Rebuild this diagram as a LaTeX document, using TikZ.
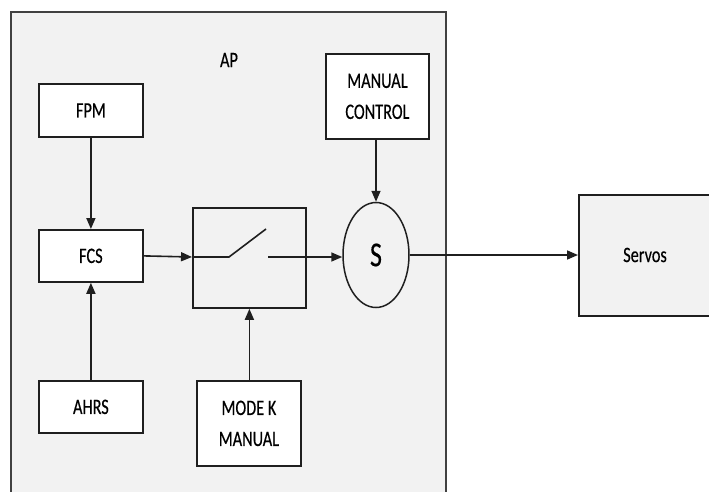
\documentclass[tikz,border=0pt]{standalone}
\usepackage{fontspec}
\setmainfont{Carlito}[FakeStretch=0.74,FakeBold=0.4]
\usetikzlibrary{arrows.meta,shapes.geometric}
\definecolor{panel}{HTML}{F2F2F2}
\definecolor{edge}{HTML}{1F1F1F}
\begin{document}
\begin{tikzpicture}[x=1pt,y=-1pt,
  blk/.style={draw=edge,line width=1.8pt,fill=white,inner sep=0pt,anchor=north west,
    align=center,font=\fontsize{22}{31}\selectfont},
  wire/.style={draw=edge,line width=1.6pt},
  flow/.style={wire,-{Triangle[length=11pt,width=9pt]}}]
  \useasboundingbox (0,0) rectangle (709,492);
  \clip (0,0) rectangle (709,492);
  % AP enclosure (open towards the bottom edge)
  \draw[draw=edge!85,line width=1.6pt,fill=panel] (11,12) rectangle (446,510);
  \node[font=\fontsize{22}{25}\selectfont] (ap) at (229,60) {AP};
  % blocks
  \node[blk,minimum width=104pt,minimum height=53pt] (fpm) at (38,83) {FPM};
  \node[blk,minimum width=104pt,minimum height=52pt] (fcs) at (38,229) {FCS};
  \node[blk,minimum width=104pt,minimum height=52pt] (ahrs) at (38,380) {AHRS};
  \node[blk,fill=panel,minimum width=113pt,minimum height=100pt] (sw) at (192,207) {};
  \node[blk,minimum width=103pt,minimum height=85pt] (man) at (325,53) {MANUAL\\CONTROL};
  \node[blk,minimum width=104pt,minimum height=85pt] (mode) at (196,380) {MODE K\\MANUAL};
  \node[draw=edge,line width=1.5pt,fill=panel,ellipse,minimum width=66pt,minimum height=105pt,
    inner sep=0pt,font=\fontsize{35}{35}\selectfont] (sum) at (376,255) {S};
  \node[blk,fill=panel,minimum width=140pt,minimum height=121pt] (srv) at (578,194) {};
  \node[font=\fontsize{22}{25}\selectfont] (srvlbl) at (645,255) {Servos};
  % switch contacts inside the mode selector
  \coordinate (swin) at (192,257);
  \coordinate (swpivot) at (229,257);
  \coordinate (swblade) at (266,229);
  \coordinate (swout) at (268,257);
  \draw[wire] (swin) -- (swpivot) -- (swblade);
  % signal flow
  \draw[flow] (fpm.south) -- (fcs.north);
  \draw[flow] (ahrs.north) -- (fcs.south);
  \draw[flow] (fcs.east) -- (swin);
  \draw[flow] (mode.north -| sw.south) -- (sw.south);
  \draw[flow] (swout) -- (sum.west |- swout);
  \draw[flow] (sum.north |- man.south) -- (sum.north);
  \draw[flow] (sum.east) -- (srv.west |- sum.east);
\end{tikzpicture}
\end{document}
